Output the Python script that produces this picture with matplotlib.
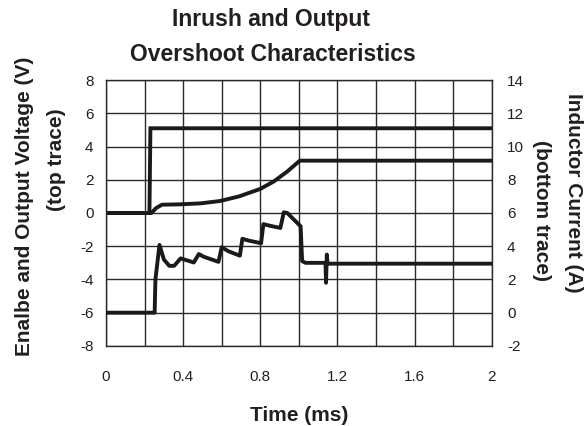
"""Inrush and output overshoot characteristics (scope capture redraw)."""

import matplotlib

matplotlib.use("Agg")
import matplotlib.pyplot as plt
from matplotlib.ticker import MultipleLocator

plt.rcParams["font.family"] = ["Liberation Sans", "DejaVu Sans"]
plt.rcParams["axes.unicode_minus"] = False

# enable trace (V)
t_enable = [0.0, 0.225, 0.23, 2.0]
v_enable = [0.0, 0.0, 5.1, 5.1]

# output voltage trace (V)
t_out = [0.0, 0.235, 0.26, 0.29, 0.38, 0.49, 0.59, 0.69, 0.80, 0.87, 0.94, 1.005, 2.0]
v_out = [0.0, 0.0, 0.3, 0.5, 0.52, 0.58, 0.72, 1.0, 1.45, 1.9, 2.5, 3.15, 3.15]

# inductor current trace (A)
t_il = [0.0, 0.252, 0.256, 0.277, 0.300, 0.328, 0.353, 0.387, 0.455, 0.481,
        0.506, 0.583, 0.600, 0.634, 0.694, 0.707, 0.736, 0.804, 0.816, 0.847,
        0.904, 0.922, 0.940, 1.009, 1.017, 1.035, 1.138, 1.141, 1.145, 1.149,
        1.155, 2.0]
i_il = [0.0, 0.0, 2.0, 4.08, 3.2, 2.82, 2.82, 3.27, 3.02, 3.53,
        3.37, 3.06, 3.94, 3.7, 3.43, 4.45, 4.35, 4.18, 5.33, 5.24,
        5.1, 6.04, 6.0, 5.2, 3.1, 3.0, 3.0, 1.8, 3.5, 2.95,
        2.95, 2.95]

x_ticks = [0, 0.4, 0.8, 1.2, 1.6, 2]
x_ticklabels = ["0", "0.4", "0.8", "1.2", "1.6", "2"]

TRACE = "#1a1a1a"
GRID = "#2a2a2a"
TXT = "#231f20"
LBL = 15

fig = plt.figure(figsize=(5.86, 4.26), dpi=100)
ax = fig.add_axes([0.181, 0.188, 0.658, 0.624])

ax.plot(t_enable, v_enable, color=TRACE, lw=2.8, solid_joinstyle="miter")
ax.plot(t_out, v_out, color=TRACE, lw=2.8, solid_joinstyle="round")

ax.set_xlim(0, 2)
ax.set_ylim(-8, 8)
ax.set_xticks(x_ticks)
ax.set_xticklabels(x_ticklabels)
ax.xaxis.set_minor_locator(MultipleLocator(0.2))
ax.set_yticks(range(-8, 9, 2))
ax.grid(True, which="both", color=GRID, lw=1.0)
ax.tick_params(which="both", length=0, labelsize=11, labelcolor=TXT, pad=9)
ax.tick_params(axis="x", pad=17)
for s in ax.spines.values():
    s.set_color(GRID)
    s.set_linewidth(1.0)

ax2 = ax.twinx()
ax2.plot(t_il, i_il, color=TRACE, lw=2.8, solid_joinstyle="round")
ax2.set_ylim(-2, 14)
ax2.set_yticks(range(-2, 15, 2))
ax2.tick_params(length=0, labelsize=11, labelcolor=TXT, pad=11)
for s in ax2.spines.values():
    s.set_visible(False)

fig.text(0.462, 0.955, "Inrush and Output", ha="center", va="center",
         fontsize=16.5, fontweight="bold", color=TXT)
fig.text(0.466, 0.873, "Overshoot Characteristics", ha="center", va="center",
         fontsize=16.5, fontweight="bold", color=TXT)

ax.set_xlabel("Time (ms)", fontsize=LBL, fontweight="bold", color=TXT, labelpad=16)

fig.text(25 / 586, 1 - 206 / 426, "Enalbe and Output Voltage (V)", rotation=90,
         ha="center", va="center", fontsize=LBL, fontweight="bold", color=TXT)
fig.text(56 / 586, 1 - 160 / 426, "(top trace)", rotation=90,
         ha="center", va="center", fontsize=LBL, fontweight="bold", color=TXT)
fig.text(574 / 586, 1 - 193 / 426, "Inductor Current (A)", rotation=270,
         ha="center", va="center", fontsize=LBL, fontweight="bold", color=TXT)
fig.text(542 / 586, 1 - 211 / 426, "(bottom trace)", rotation=270,
         ha="center", va="center", fontsize=LBL, fontweight="bold", color=TXT)

fig.savefig("out.png", dpi=100)
